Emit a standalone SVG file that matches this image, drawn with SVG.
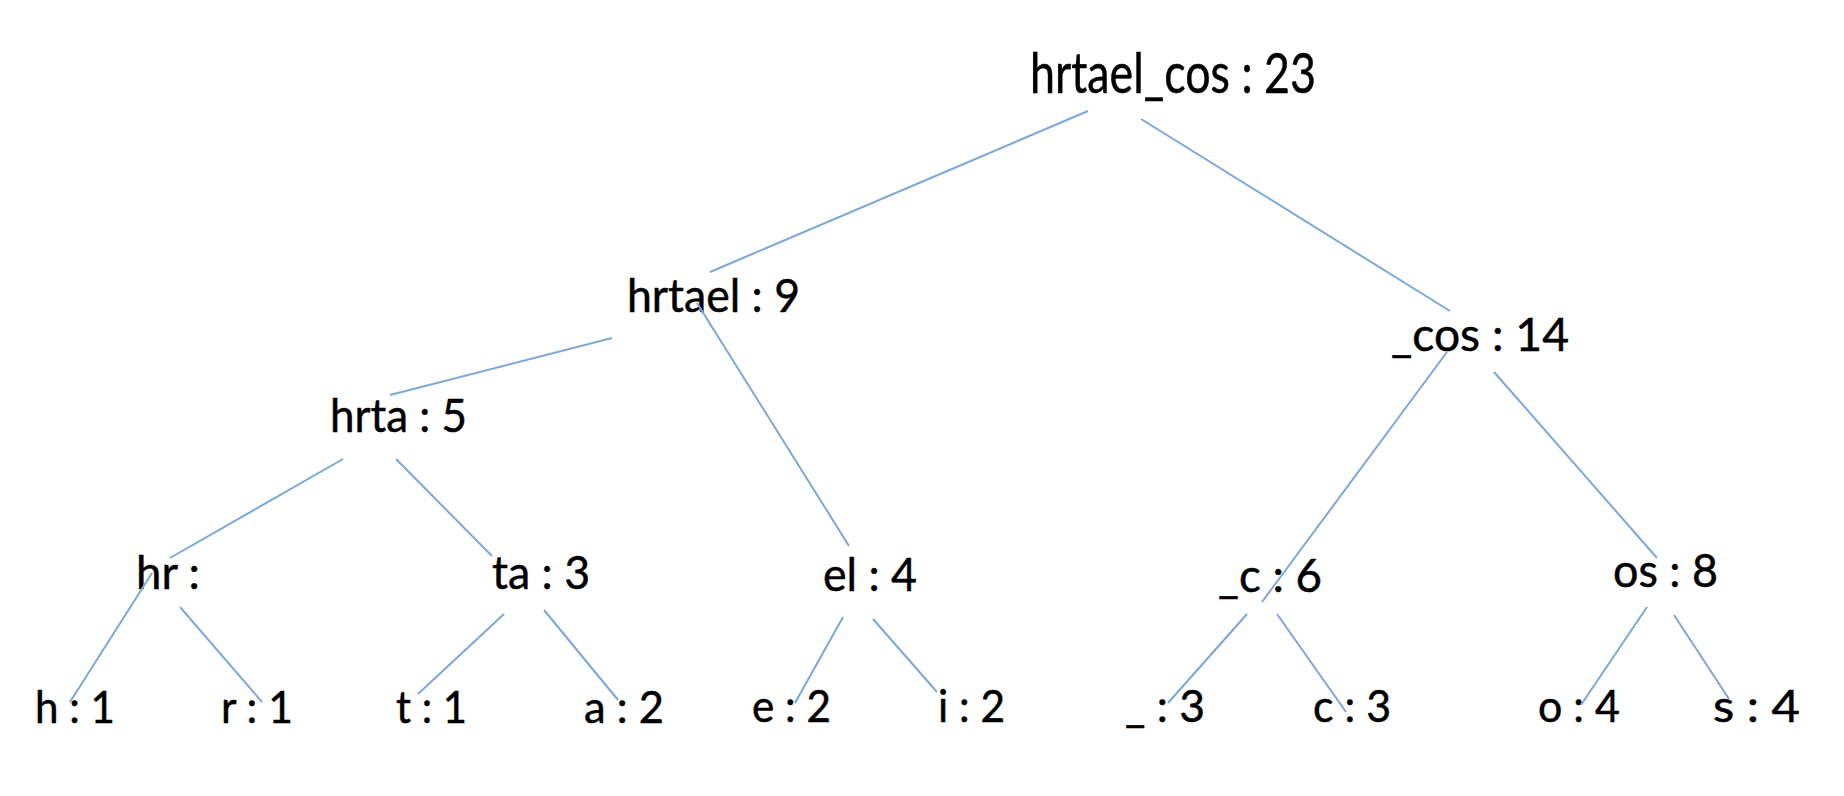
<svg xmlns="http://www.w3.org/2000/svg" width="1844" height="796" viewBox="0 0 1844 796">
<style>
text{font-family:Lato,"Liberation Sans",sans-serif;fill:#000;stroke:#000;stroke-width:0.5;font-size:46px}
.root{font-size:56px}
.leaf{font-size:44px}
.edge line{stroke:#7ba7da;stroke-width:2}
</style>
<rect width="1844" height="796" fill="#fff"/>
<g id="nodes">
<g id="n-root"><text class="root" x="1030" y="93" textLength="286" lengthAdjust="spacingAndGlyphs">hrtael_cos : 23</text></g>
<g id="n-hrtael"><text x="627" y="312" textLength="173" lengthAdjust="spacingAndGlyphs">hrtael : 9</text></g>
<g id="n-cos"><text x="1391" y="351" textLength="178" lengthAdjust="spacingAndGlyphs">_cos : 14</text></g>
<g id="n-hrta"><text x="330" y="432" textLength="137" lengthAdjust="spacingAndGlyphs">hrta : 5</text></g>
<g id="n-hr"><text x="136" y="589" textLength="64" lengthAdjust="spacingAndGlyphs">hr :</text></g>
<g id="n-ta"><text x="492" y="589" textLength="98" lengthAdjust="spacingAndGlyphs">ta : 3</text></g>
<g id="n-el"><text x="823" y="591" textLength="94" lengthAdjust="spacingAndGlyphs">el : 4</text></g>
<g id="n-c6"><text x="1218" y="592" textLength="104" lengthAdjust="spacingAndGlyphs">_c : 6</text></g>
<g id="n-os"><text x="1613" y="587" textLength="105" lengthAdjust="spacingAndGlyphs">os : 8</text></g>
<g id="n-h"><text class="leaf" x="35" y="723" textLength="80" lengthAdjust="spacingAndGlyphs">h : 1</text></g>
<g id="n-r"><text class="leaf" x="221" y="723" textLength="72" lengthAdjust="spacingAndGlyphs">r : 1</text></g>
<g id="n-t"><text class="leaf" x="396" y="723" textLength="71" lengthAdjust="spacingAndGlyphs">t : 1</text></g>
<g id="n-a"><text class="leaf" x="584" y="723" textLength="80" lengthAdjust="spacingAndGlyphs">a : 2</text></g>
<g id="n-e"><text class="leaf" x="752" y="722" textLength="79" lengthAdjust="spacingAndGlyphs">e : 2</text></g>
<g id="n-i"><text class="leaf" x="938" y="722" textLength="67" lengthAdjust="spacingAndGlyphs">i : 2</text></g>
<g id="n-us"><text class="leaf" x="1125" y="722" textLength="80" lengthAdjust="spacingAndGlyphs">_ : 3</text></g>
<g id="n-c"><text class="leaf" x="1313" y="722" textLength="78" lengthAdjust="spacingAndGlyphs">c : 3</text></g>
<g id="n-o"><text class="leaf" x="1538" y="722" textLength="82" lengthAdjust="spacingAndGlyphs">o : 4</text></g>
<g id="n-s"><text class="leaf" x="1713" y="722" textLength="87" lengthAdjust="spacingAndGlyphs">s : 4</text></g>
</g>
<g id="connectors" class="edge">
<line x1="1088" y1="111" x2="710" y2="272"/>
<line x1="1141" y1="119" x2="1450" y2="311"/>
<line x1="612" y1="338" x2="390" y2="395"/>
<line x1="697" y1="303" x2="849" y2="546"/>
<line x1="343" y1="459" x2="170" y2="558"/>
<line x1="396" y1="459" x2="492" y2="556"/>
<line x1="152" y1="573" x2="70" y2="702"/>
<line x1="180" y1="607" x2="262" y2="702"/>
<line x1="504" y1="614" x2="418" y2="694"/>
<line x1="544" y1="610" x2="618" y2="700"/>
<line x1="843" y1="617" x2="795" y2="703"/>
<line x1="873" y1="619" x2="937" y2="692"/>
<line x1="1447" y1="352" x2="1262" y2="602"/>
<line x1="1494" y1="372" x2="1657" y2="558"/>
<line x1="1247" y1="614" x2="1168" y2="703"/>
<line x1="1277" y1="614" x2="1346" y2="712"/>
<line x1="1647" y1="607" x2="1581" y2="705"/>
<line x1="1674" y1="615" x2="1729" y2="699"/>
</g>
</svg>
